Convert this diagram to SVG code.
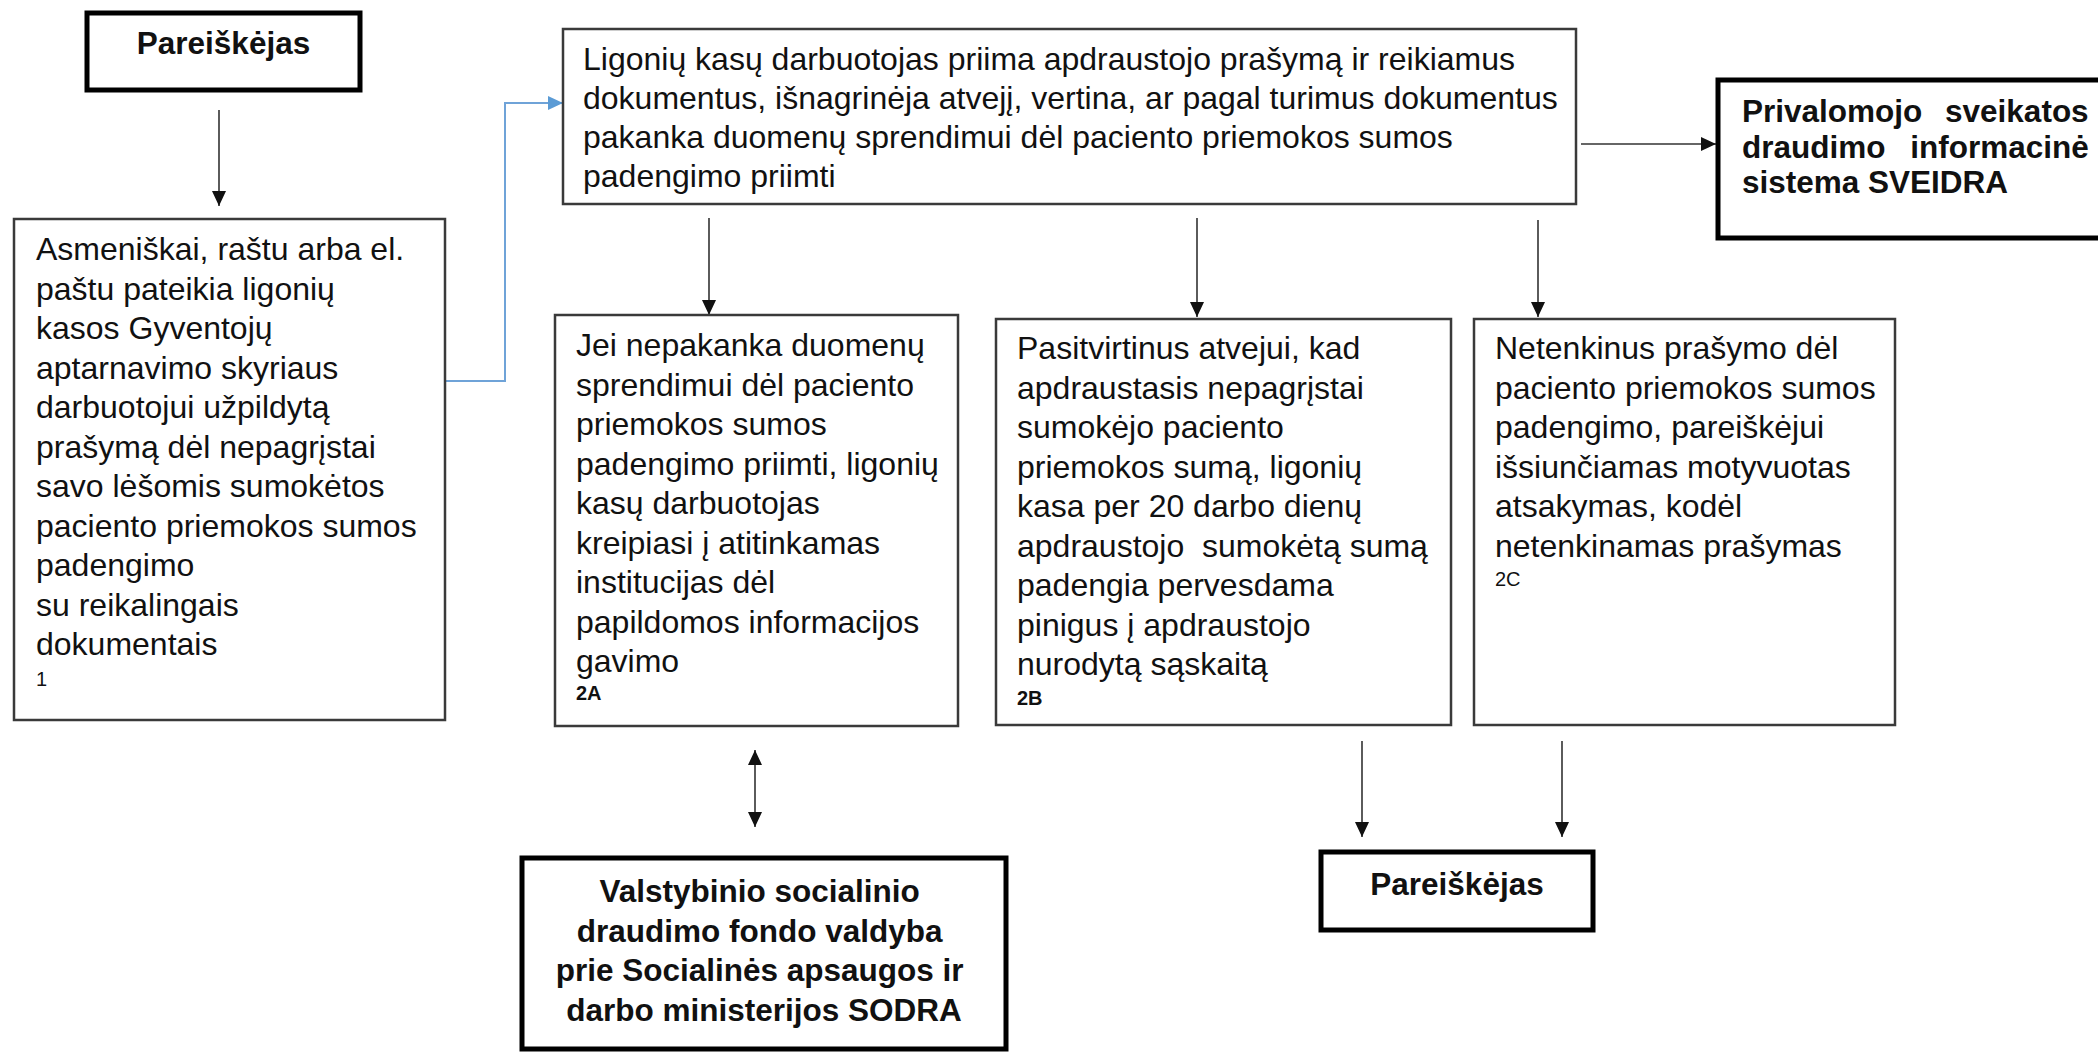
<svg xmlns="http://www.w3.org/2000/svg" width="2098" height="1054" viewBox="0 0 2098 1054">
<style>
.box{fill:#fff;stroke:#3a3a3a;stroke-width:2.5}
.tbox{fill:#fff;stroke:#000;stroke-width:5}
.t{font-family:"Liberation Sans",Arial,sans-serif;font-size:32px;fill:#111}
.b{font-family:"Liberation Sans",Arial,sans-serif;font-size:31.5px;font-weight:bold;fill:#111}
.s{font-family:"Liberation Sans",Arial,sans-serif;font-size:20px;fill:#111}
.sb{font-family:"Liberation Sans",Arial,sans-serif;font-size:20px;font-weight:bold;fill:#111}
.c{fill:none;stroke:#333;stroke-width:1.6}
.blue{fill:none;stroke:#6fa3d8;stroke-width:2}
</style>
<defs>
<marker id="ah" markerUnits="userSpaceOnUse" markerWidth="16" markerHeight="16" refX="15" refY="7" orient="auto-start-reverse" viewBox="0 0 16 16">
<path d="M0,0 L15,7 L0,14 z" fill="#111"/>
</marker>
<marker id="ahb" markerUnits="userSpaceOnUse" markerWidth="16" markerHeight="16" refX="15" refY="7" orient="auto" viewBox="0 0 16 16">
<path d="M0,0 L15,7 L0,14 z" fill="#5b9bd5"/>
</marker>
</defs>
<rect width="2098" height="1054" fill="#fff"/>

<g id="connectors">
<line class="c" x1="219" y1="110" x2="219" y2="206" marker-end="url(#ah)"/>
<path class="blue" d="M445,381 H505 V103 H563" marker-end="url(#ahb)"/>
<line class="c" x1="709" y1="218" x2="709" y2="315" marker-end="url(#ah)"/>
<line class="c" x1="1197" y1="218" x2="1197" y2="317" marker-end="url(#ah)"/>
<line class="c" x1="1538" y1="220" x2="1538" y2="317" marker-end="url(#ah)"/>
<line class="c" x1="1581" y1="144" x2="1716" y2="144" marker-end="url(#ah)"/>
<line class="c" x1="755" y1="750" x2="755" y2="827" marker-start="url(#ah)" marker-end="url(#ah)"/>
<line class="c" x1="1362" y1="741" x2="1362" y2="837" marker-end="url(#ah)"/>
<line class="c" x1="1562" y1="741" x2="1562" y2="837" marker-end="url(#ah)"/>
</g>

<g id="pareiskejas-top">
<rect class="tbox" x="87" y="13" width="273" height="77"/>
<text class="b" x="223.5" y="54" text-anchor="middle">Pareiškėjas</text>
</g>

<g id="step1">
<rect class="box" x="14" y="219" width="431" height="501"/>
<text class="t">
<tspan x="36" y="260">Asmeniškai, raštu arba el.</tspan>
<tspan x="36" y="299.5">paštu pateikia ligonių</tspan>
<tspan x="36" y="339">kasos Gyventojų</tspan>
<tspan x="36" y="378.5">aptarnavimo skyriaus</tspan>
<tspan x="36" y="418">darbuotojui užpildytą</tspan>
<tspan x="36" y="457.5">prašymą dėl nepagrįstai</tspan>
<tspan x="36" y="497">savo lėšomis sumokėtos</tspan>
<tspan x="36" y="536.5">paciento priemokos sumos</tspan>
<tspan x="36" y="576">padengimo</tspan>
<tspan x="36" y="615.5">su reikalingais</tspan>
<tspan x="36" y="655">dokumentais</tspan>
</text>
<text class="s" x="36" y="686">1</text>
</g>

<g id="main">
<rect class="box" x="563" y="29" width="1013" height="175"/>
<text class="t">
<tspan x="583" y="70">Ligonių kasų darbuotojas priima apdraustojo prašymą ir reikiamus</tspan>
<tspan x="583" y="109">dokumentus, išnagrinėja atvejį, vertina, ar pagal turimus dokumentus</tspan>
<tspan x="583" y="148">pakanka duomenų sprendimui dėl paciento priemokos sumos</tspan>
<tspan x="583" y="187">padengimo priimti</tspan>
</text>
</g>

<g id="sveidra">
<rect class="tbox" x="1718" y="80" width="420" height="158"/>
<text class="b" x="1742" y="122" word-spacing="14">Privalomojo sveikatos</text>
<text class="b" x="1742" y="158" word-spacing="16">draudimo informacinė</text>
<text class="b" x="1742" y="193">sistema SVEIDRA</text>
</g>

<g id="step2a">
<rect class="box" x="555" y="315" width="403" height="411"/>
<text class="t">
<tspan x="576" y="356">Jei nepakanka duomenų</tspan>
<tspan x="576" y="395.5">sprendimui dėl paciento</tspan>
<tspan x="576" y="435">priemokos sumos</tspan>
<tspan x="576" y="474.5">padengimo priimti, ligonių</tspan>
<tspan x="576" y="514">kasų darbuotojas</tspan>
<tspan x="576" y="553.5">kreipiasi į atitinkamas</tspan>
<tspan x="576" y="593">institucijas dėl</tspan>
<tspan x="576" y="632.5">papildomos informacijos</tspan>
<tspan x="576" y="672">gavimo</tspan>
</text>
<text class="sb" x="576" y="700">2A</text>
</g>

<g id="step2b">
<rect class="box" x="996" y="319" width="455" height="406"/>
<text class="t" xml:space="preserve"><tspan x="1017" y="359">Pasitvirtinus atvejui, kad</tspan><tspan x="1017" y="398.5">apdraustasis nepagrįstai</tspan><tspan x="1017" y="438">sumokėjo paciento</tspan><tspan x="1017" y="477.5">priemokos sumą, ligonių</tspan><tspan x="1017" y="517">kasa per 20 darbo dienų</tspan><tspan x="1017" y="556.5">apdraustojo  sumokėtą sumą</tspan><tspan x="1017" y="596">padengia pervesdama</tspan><tspan x="1017" y="635.5">pinigus į apdraustojo</tspan><tspan x="1017" y="675">nurodytą sąskaitą</tspan></text>
<text class="sb" x="1017" y="705">2B</text>
</g>

<g id="step2c">
<rect class="box" x="1474" y="319" width="421" height="406"/>
<text class="t">
<tspan x="1495" y="359">Netenkinus prašymo dėl</tspan>
<tspan x="1495" y="398.5">paciento priemokos sumos</tspan>
<tspan x="1495" y="438">padengimo, pareiškėjui</tspan>
<tspan x="1495" y="477.5">išsiunčiamas motyvuotas</tspan>
<tspan x="1495" y="517">atsakymas, kodėl</tspan>
<tspan x="1495" y="556.5">netenkinamas prašymas</tspan>
</text>
<text class="s" x="1495" y="586">2C</text>
</g>

<g id="sodra">
<rect class="tbox" x="522" y="858" width="484" height="191"/>
<text class="b" text-anchor="middle">
<tspan x="764" y="902">Valstybinio socialinio</tspan>
<tspan x="764" y="941.5">draudimo fondo valdyba</tspan>
<tspan x="764" y="981">prie Socialinės apsaugos ir</tspan>
<tspan x="764" y="1020.5">darbo ministerijos SODRA</tspan>
</text>
</g>

<g id="pareiskejas-bottom">
<rect class="tbox" x="1321" y="852" width="272" height="78"/>
<text class="b" x="1457" y="895" text-anchor="middle">Pareiškėjas</text>
</g>
</svg>
